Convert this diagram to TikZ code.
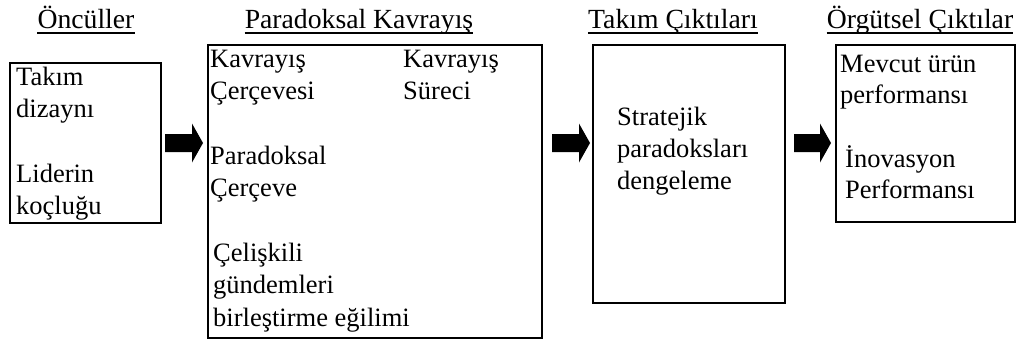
\documentclass[tikz,border=0pt]{standalone}
\usepackage{fontspec}
\setmainfont{Liberation Serif}
\usetikzlibrary{calc}

% thick block arrow between two points on the same height
\newcommand{\blockarrow}[2]{%
  \fill[black] let \p1=(#1), \p2=(#2) in
    (\x1,\y1+9pt) -- (\x2-11pt,\y1+9pt) -- (\x2-11pt,\y1+19.5pt) -- (\x2,\y1)
    -- (\x2-11pt,\y1-19.5pt) -- (\x2-11pt,\y1-9pt) -- (\x1,\y1-9pt) -- cycle;}

\tikzset{
  box/.style={draw=black, line width=1.5pt, inner sep=0pt, outer sep=0pt, anchor=north west},
  lbl/.style={anchor=base west, inner sep=0pt, font=\fontsize{26.5}{32}\selectfont},
  ttl/.style={anchor=base, inner sep=0pt, font=\fontsize{27.7}{32}\selectfont},
  uline/.style={line width=1.5pt, black}
}

\begin{document}
\begin{tikzpicture}[x=1pt, y=-1pt]
\useasboundingbox (0,0) rectangle (1025,343);

% column titles
\node[ttl] (t1) at (86,28) {Öncüller};
\node[ttl] (t2) at (359,28) {Paradoksal Kavrayış};
\node[ttl] (t3) at (673,28) {Takım Çıktıları};
\node[ttl] (t4) at (920,28) {Örgütsel Çıktılar};
\foreach \t in {t1,t2,t3,t4}
  \draw[uline] ($(\t.base west)+(0,5)$) -- ($(\t.base east)+(0,5)$);

% boxes
\node[box, minimum width=151pt, minimum height=160pt] (b1) at (10,63) {};
\node[box, minimum width=334pt, minimum height=293pt] (b2) at (208,45) {};
\node[box, minimum width=192pt, minimum height=258pt] (b3) at (593,45) {};
\node[box, minimum width=179pt, minimum height=177pt] (b4) at (836,45) {};

% antecedents
\node[lbl] (l11) at (16,85) {Takım};
\node[lbl] (l12) at (16,117) {dizaynı};
\node[lbl] (l13) at (16,182) {Liderin};
\node[lbl] (l14) at (16,214) {koçluğu};

% paradoxical cognition
\node[lbl] (l21) at (210,67) {Kavrayış};
\node[lbl] (l22) at (210,99) {Çerçevesi};
\node[lbl] (l23) at (403,67) {Kavrayış};
\node[lbl] (l24) at (403,99) {Süreci};
\node[lbl] (l25) at (210,164) {Paradoksal};
\node[lbl] (l26) at (210,196) {Çerçeve};
\node[lbl] (l27) at (213,261) {Çelişkili};
\node[lbl] (l28) at (213,293) {gündemleri};
\node[lbl] (l29) at (213,326) {birleştirme eğilimi};

% team outcomes
\node[lbl] (l31) at (617,125) {Stratejik};
\node[lbl] (l32) at (617,157) {paradoksları};
\node[lbl] (l33) at (617,189) {dengeleme};

% organisational outcomes
\node[lbl] (l41) at (840,72) {Mevcut ürün};
\node[lbl] (l42) at (840,103.5) {performansı};
\node[lbl] (l43) at (845,167) {İnovasyon};
\node[lbl] (l44) at (845,198.5) {Performansı};

% arrow end points
\coordinate (a1s) at ($(b1.east)+(4,0)$);
\coordinate (a1e) at ($(b2.west |- b1.east)+(-5,0)$);
\coordinate (a2s) at ($(b2.east |- b1.east)+(10,0)$);
\coordinate (a2e) at ($(b3.west |- b1.east)+(-3,0)$);
\coordinate (a3s) at ($(b3.east |- b1.east)+(9,0)$);
\coordinate (a3e) at ($(b4.west |- b1.east)+(-5,0)$);
\blockarrow{a1s}{a1e}
\blockarrow{a2s}{a2e}
\blockarrow{a3s}{a3e}
\end{tikzpicture}
\end{document}
